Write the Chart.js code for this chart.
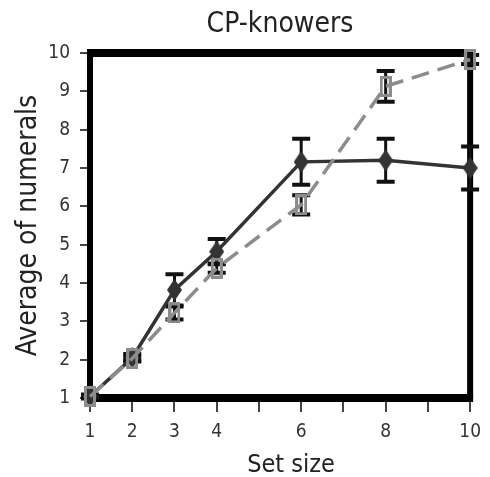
<!DOCTYPE html>
<html>
<head>
<meta charset="utf-8">
<script src="https://cdn.jsdelivr.net/npm/chart.js@4.4.1/dist/chart.umd.min.js"></script>
<style>
  html, body { margin: 0; padding: 0; background: #fff; }
  #wrap { width: 490px; height: 477px; }
</style>
</head>
<body>
<div id="wrap"><canvas id="c"></canvas></div>
<script>
const FONT = "'DejaVu Sans Condensed', 'Liberation Sans', Arial, sans-serif";

// set sizes shown on the x axis
const setSizes = [1, 2, 3, 4, 6, 8, 10];
const labeledTicks = [1, 2, 3, 4, 6, 8, 10];

// solid dark line (diamonds)
const darkMeans = [1.04, 2.05, 3.82, 4.82, 7.16, 7.2, 7.0];
const darkErr = [0.05, 0.1, 0.41, 0.33, 0.6, 0.56, 0.56];

// dashed grey line (hollow squares)
const greyMeans = [1.04, 2.03, 3.22, 4.39, 6.04, 9.13, 9.83];
const greyErr = [0.04, 0.05, 0.17, 0.12, 0.25, 0.4, 0.12];

function makeDiamond(w, h, color) {
  const c = document.createElement('canvas');
  c.width = w; c.height = h;
  const g = c.getContext('2d');
  g.fillStyle = color;
  g.beginPath();
  g.moveTo(w / 2, 0); g.lineTo(w, h / 2); g.lineTo(w / 2, h); g.lineTo(0, h / 2);
  g.closePath();
  g.fill();
  return c;
}

function makeBox(w, h, color, lw) {
  const c = document.createElement('canvas');
  c.width = w; c.height = h;
  const g = c.getContext('2d');
  g.strokeStyle = color;
  g.lineWidth = lw;
  g.strokeRect(lw / 2, lw / 2, w - lw, h - lw);
  return c;
}

const toXY = (means) => setSizes.map((x, i) => ({ x, y: means[i] }));

// thick black frame around the plot, under the marks
const framePlugin = {
  id: 'frame',
  beforeDatasetsDraw(chart) {
    const { ctx, chartArea: a } = chart;
    ctx.save();
    ctx.fillStyle = '#000';
    ctx.fillRect(a.left - 3, a.top - 4, a.right - a.left + 6, 8);
    ctx.fillRect(a.left - 3, a.bottom - 4, a.right - a.left + 6, 8);
    ctx.fillRect(a.left - 3, a.top, 6, a.bottom - a.top);
    ctx.fillRect(a.right - 3, a.top, 6, a.bottom - a.top);
    ctx.restore();
  },
};

// vertical error bars with caps
const errorBarPlugin = {
  id: 'errorBars',
  beforeDatasetsDraw(chart) {
    const { ctx, scales: { x, y } } = chart;
    ctx.save();
    ctx.strokeStyle = '#111';
    chart.data.datasets.forEach((ds) => {
      if (!ds.errors) return;
      ds.data.forEach((p, i) => {
        const e = ds.errors[i];
        const px = x.getPixelForValue(p.x);
        const yt = y.getPixelForValue(p.y + e);
        const yb = y.getPixelForValue(p.y - e);
        ctx.lineWidth = 3;
        ctx.beginPath();
        ctx.moveTo(px, yt); ctx.lineTo(px, yb);
        ctx.stroke();
        ctx.lineWidth = 4;
        ctx.beginPath();
        ctx.moveTo(px - 9, yt); ctx.lineTo(px + 9, yt);
        ctx.moveTo(px - 9, yb); ctx.lineTo(px + 9, yb);
        ctx.stroke();
      });
    });
    ctx.restore();
  },
};

// chart title and x-axis title sit a little right of the plot centre
const titlePlugin = {
  id: 'titles',
  afterDraw(chart) {
    const { ctx } = chart;
    ctx.save();
    ctx.fillStyle = '#222';
    ctx.textAlign = 'center';
    ctx.textBaseline = 'alphabetic';
    ctx.font = `28px ${FONT}`;
    ctx.fillText('CP-knowers', 280, 32);
    ctx.font = `25px ${FONT}`;
    ctx.fillText('Set size', 291, 472);
    ctx.restore();
  },
};

new Chart(document.getElementById('c'), {
  type: 'line',
  data: {
    datasets: [
      {
        label: 'grey',
        data: toXY(greyMeans),
        errors: greyErr,
        borderColor: '#8c8c8c',
        borderWidth: 3.5,
        borderDash: [18, 9],
        pointStyle: makeBox(12, 21, '#8c8c8c', 3),
        pointRadius: 8,
        clip: false,
        order: 0,
      },
      {
        label: 'dark',
        data: toXY(darkMeans),
        errors: darkErr,
        borderColor: '#333',
        borderWidth: 3.5,
        pointStyle: makeDiamond(15, 22, '#333'),
        pointRadius: 8,
        clip: false,
        order: 1,
      },
    ],
  },
  options: {
    responsive: true,
    maintainAspectRatio: false,
    animation: false,
    layout: { padding: { top: 53, right: 13, bottom: 0, left: 0 } },
    plugins: { legend: { display: false }, tooltip: { enabled: false } },
    scales: {
      x: {
        type: 'linear',
        min: 1,
        max: 10,
        ticks: {
          stepSize: 1,
          autoSkip: false,
          maxRotation: 0,
          color: '#333',
          font: { family: FONT, size: 19 },
          padding: 9,
          callback: (v) => (labeledTicks.includes(v) ? String(v) : ''),
        },
        grid: { drawOnChartArea: false, tickLength: 14, color: '#444', lineWidth: 2 },
        border: { display: false },
        afterFit(scale) { scale.height = 79; },
      },
      y: {
        type: 'linear',
        min: 1,
        max: 10,
        ticks: {
          stepSize: 1,
          color: '#333',
          font: { family: FONT, size: 19 },
          padding: 10,
        },
        grid: { drawOnChartArea: false, tickLength: 10, color: '#444', lineWidth: 2 },
        border: { display: false },
        title: {
          display: true,
          text: 'Average of numerals',
          color: '#222',
          font: { family: FONT, size: 28 },
          padding: { top: 12 },
        },
        afterFit(scale) { scale.width = 90; },
      },
    },
  },
  plugins: [framePlugin, errorBarPlugin, titlePlugin],
});
</script>
</body>
</html>
